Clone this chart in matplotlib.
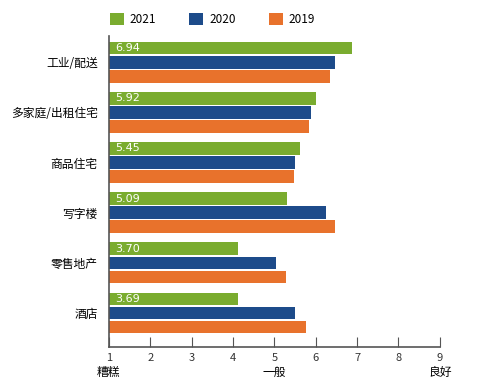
import matplotlib
matplotlib.use('Agg')
import matplotlib.pyplot as plt
import numpy as np

plt.rcParams['font.family'] = ['Noto Sans CJK SC', 'DejaVu Sans']

# datos
categorias = ['工业/配送', '多家庭/出租住宅', '商品住宅', '写字楼', '零售地产', '酒店']
etiquetas_2021 = ['6.94', '5.92', '5.45', '5.09', '3.70', '3.69']
v2021 = [6.87, 6.00, 5.61, 5.31, 4.13, 4.12]
v2020 = [6.46, 5.89, 5.49, 6.26, 5.03, 5.49]
v2019 = [6.34, 5.84, 5.47, 6.46, 5.28, 5.77]
series = ['2021', '2020', '2019']
colores = ['#7aac2f', '#1d4b8a', '#e8722c']
ticks_x = [1, 2, 3, 4, 5, 6, 7, 8, 9]
sub_labels = {1: '糟糕', 5: '一般', 9: '良好'}

fig = plt.figure(figsize=(4.97, 3.89), dpi=100)
ax = fig.add_axes([0.219, 0.108, 0.666, 0.799])

y = np.arange(len(categorias))
alto = 0.25
desp = 0.28
for k, (vals, col) in enumerate(zip([v2021, v2020, v2019], colores)):
    ax.barh(y + (k - 1) * desp, np.array(vals) - 1, left=1, height=alto,
            color=col, label=series[k])

# etiquetas dentro de la barra verde
for i, t in enumerate(etiquetas_2021):
    ax.text(1.15, y[i] - desp, t, color='white', fontsize=8,
            va='center', ha='left', family='DejaVu Sans')

ax.set_xlim(1, 9)
ax.set_ylim(5.68, -0.52)
ax.set_yticks(y)
ax.set_yticklabels(categorias, fontsize=8.5)
ax.tick_params(axis='y', length=0, pad=8)
ax.set_xticks(ticks_x)
ax.set_xticklabels([str(t) for t in ticks_x], fontsize=8, color='#333333')
ax.tick_params(axis='x', direction='in', length=7, color='#555555', pad=4)
for t, s in sub_labels.items():
    ax.text(t, -0.062, s, transform=ax.get_xaxis_transform(), ha='center',
            va='top', fontsize=8.5)
for lado in ['top', 'right']:
    ax.spines[lado].set_visible(False)
for lado in ['left', 'bottom']:
    ax.spines[lado].set_color('#555555')
    ax.spines[lado].set_linewidth(1.2)

ax.legend(loc='lower left', bbox_to_anchor=(-0.03, 1.0), ncol=3, frameon=False,
          fontsize=8.5, handlelength=1.2, handleheight=1.2, columnspacing=2.8,
          handletextpad=0.5)

fig.savefig('out.png', dpi=100)
